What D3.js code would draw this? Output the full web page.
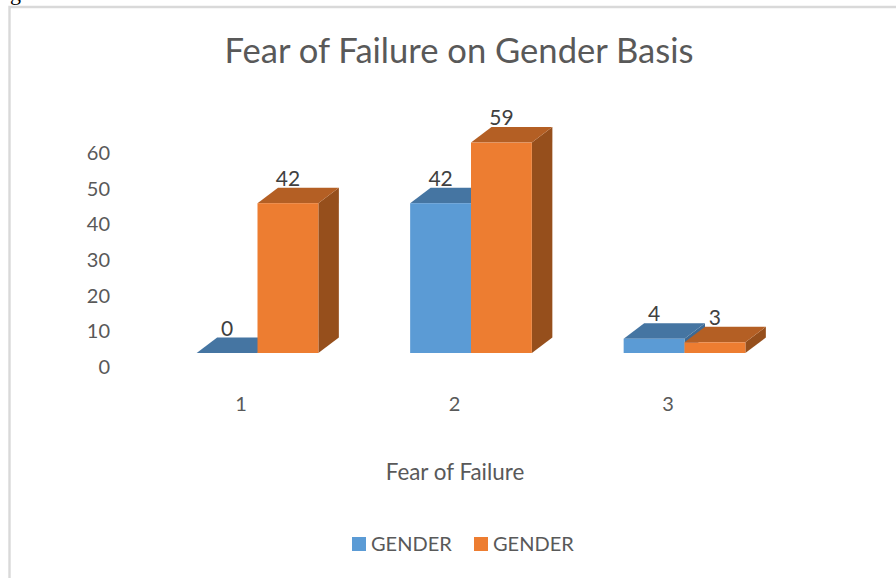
<!DOCTYPE html>
<html>
<head>
<meta charset="utf-8">
<script src="https://cdnjs.cloudflare.com/ajax/libs/d3/7.8.5/d3.min.js"></script>
<style>
  html, body { margin: 0; padding: 0; background: #fff; overflow: hidden; }
  text { font-family: Lato, "Open Sans", sans-serif; fill: #595959; }
</style>
</head>
<body>
<svg id="chart" width="896" height="578"></svg>
<script>
const categories = ["1", "2", "3"];
const seriesNames = ["GENDER", "GENDER"];
const seriesA = [0, 42, 4];
const seriesB = [42, 59, 3];
const yTicks = [0, 10, 20, 30, 40, 50, 60];

const blue = { front: "#5b9bd5", top: "#4575a2", side: "#3e6a94" };
const orange = { front: "#ed7d31", top: "#b45f24", side: "#964f1c" };

const depthX = 20.5, depthY = 15.5;
const baseY = 353;
const labelSize = "20px";

const svg = d3.select("#chart");

// clipped line of body text from the page above the figure
svg.append("text")
  .attr("x", 10).attr("y", 0)
  .attr("textLength", 170)
  .style("font-family", "'Liberation Serif', serif")
  .style("font-size", "22px")
  .style("fill", "#000")
  .text("gination Scale");

// chart frame
svg.append("path")
  .attr("d", "M9.5,578V7H896")
  .attr("fill", "none")
  .attr("stroke", "#d9d9d9")
  .attr("stroke-width", 2.4);

const x = d3.scaleBand()
  .domain(categories)
  .range([150.75, 791.25])
  .paddingInner(0.43)
  .paddingOuter(0.215);

const xInner = d3.scaleBand()
  .domain([0, 1])
  .range([0, x.bandwidth()]);

const y = d3.scaleLinear()
  .domain([0, 60])
  .range([baseY, baseY - 214]);

// axes, no lines, labels sit below/left of the 3d floor
const yAxis = svg.append("g")
  .attr("transform", "translate(110,14)")
  .call(d3.axisLeft(y).tickValues(yTicks).tickSize(0).tickPadding(0));
yAxis.select(".domain").remove();
yAxis.selectAll("text").style("font-size", labelSize).style("font-family", "Lato").style("fill", "#595959");

const xAxis = svg.append("g")
  .attr("transform", "translate(-16.5,397)")
  .call(d3.axisBottom(x).tickSize(0).tickPadding(0));
xAxis.select(".domain").remove();
xAxis.selectAll("text").style("font-size", labelSize).style("font-family", "Lato").style("fill", "#595959");

function drawSeries(values, color, index) {
  const g = svg.append("g");
  categories.forEach((cat, i) => {
    const x0 = x(cat) + xInner(index);
    const w = xInner.bandwidth();
    const top = y(values[i]);
    // side face
    g.append("path")
      .attr("d", d3.line()([[x0 + w, top], [x0 + w + depthX, top - depthY], [x0 + w + depthX, baseY - depthY], [x0 + w, baseY]]))
      .attr("fill", color.side);
    // top face
    g.append("path")
      .attr("d", d3.line()([[x0, top], [x0 + depthX, top - depthY], [x0 + w + depthX, top - depthY], [x0 + w, top]]))
      .attr("fill", color.top);
    // front face
    g.append("rect")
      .attr("x", x0).attr("y", top)
      .attr("width", w).attr("height", baseY - top)
      .attr("fill", color.front);
  });
}

drawSeries(seriesA, blue, 0);
drawSeries(seriesB, orange, 1);

// value labels
[seriesA, seriesB].forEach((values, s) => {
  svg.append("g").selectAll("text")
    .data(values)
    .enter().append("text")
    .attr("x", (d, i) => x(categories[i]) + xInner(s) + xInner.bandwidth() / 2)
    .attr("y", d => y(d) - depthY - 2)
    .attr("text-anchor", "middle")
    .style("font-size", "21px")
    .style("fill", "#404040")
    .text(d => d);
});

svg.append("text")
  .attr("x", 459).attr("y", 63)
  .attr("text-anchor", "middle")
  .style("font-size", "34.6px")
  .text("Fear of Failure on Gender Basis");

svg.append("text")
  .attr("x", 455).attr("y", 480)
  .attr("text-anchor", "middle")
  .style("font-size", "22.4px")
  .text("Fear of Failure");

// legend
const legendX = [352, 474];
seriesNames.forEach((name, i) => {
  svg.append("rect")
    .attr("x", legendX[i]).attr("y", 537)
    .attr("width", 14).attr("height", 14)
    .attr("fill", i === 0 ? blue.front : orange.front);
  svg.append("text")
    .attr("x", legendX[i] + 19).attr("y", 550.5)
    .style("font-size", labelSize)
    .text(name);
});
</script>
</body>
</html>
